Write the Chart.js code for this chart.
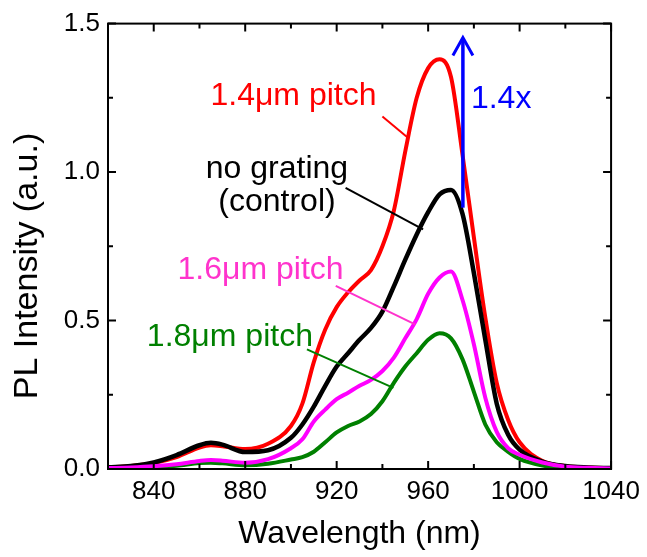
<!DOCTYPE html>
<html>
<head>
<meta charset="utf-8">
<title>PL spectra</title>
<script src="https://cdn.jsdelivr.net/npm/chart.js@4.4.1/dist/chart.umd.min.js"></script>
<style>
    html, body { margin: 0; padding: 0; background: #fff; }
    #plChart { display: block; }
</style>
</head>
<body>
<canvas id="plChart" width="647" height="557"></canvas>
<script>
// PL spectra, gratings of different pitch vs. no grating

const wavelengths = [820, 830, 840, 850, 860, 865, 870, 880, 890, 900, 905, 910, 915, 920, 925, 930, 935, 940, 945, 950, 955, 960, 965, 970, 975, 980, 985, 990, 995, 1000, 1010, 1020, 1030, 1040];

const pitch14 = [0.006, 0.010, 0.020, 0.040, 0.072, 0.080, 0.077, 0.067, 0.085, 0.145, 0.220, 0.360, 0.470, 0.545, 0.595, 0.635, 0.670, 0.750, 0.870, 1.070, 1.250, 1.350, 1.380, 1.320, 1.060, 0.780, 0.510, 0.290, 0.165, 0.090, 0.027, 0.010, 0.005, 0.003];
const noGrating = [0.006, 0.010, 0.022, 0.047, 0.080, 0.088, 0.082, 0.057, 0.063, 0.105, 0.150, 0.210, 0.280, 0.345, 0.390, 0.435, 0.475, 0.530, 0.615, 0.705, 0.790, 0.865, 0.925, 0.940, 0.860, 0.660, 0.435, 0.220, 0.115, 0.065, 0.025, 0.010, 0.005, 0.003];
const pitch16 = [0.003, 0.005, 0.009, 0.016, 0.027, 0.030, 0.028, 0.021, 0.033, 0.070, 0.100, 0.160, 0.200, 0.235, 0.257, 0.280, 0.300, 0.330, 0.375, 0.440, 0.505, 0.590, 0.645, 0.665, 0.570, 0.420, 0.240, 0.125, 0.070, 0.048, 0.022, 0.008, 0.004, 0.002];
const pitch18 = [0.002, 0.004, 0.006, 0.011, 0.020, 0.021, 0.019, 0.013, 0.018, 0.032, 0.040, 0.058, 0.090, 0.123, 0.145, 0.160, 0.185, 0.228, 0.290, 0.345, 0.390, 0.435, 0.457, 0.440, 0.370, 0.260, 0.150, 0.090, 0.058, 0.034, 0.012, 0.005, 0.003, 0.002];

const xTicks = { min: 820, max: 1040, step: 20, labelEvery: 40 };
const yTicks = { min: 0, max: 1.5, step: 0.25, labelEvery: 0.5 };

const FONT = 'Arial, "Liberation Sans", sans-serif';

function toPoints(values) {
    return wavelengths.map((x, i) => ({ x: x, y: values[i] }));
}

function isMajor(value, every) {
    const r = value / every;
    return Math.abs(r - Math.round(r)) < 1e-6;
}

// text labels, leader lines and the 1.4x arrow, all in data units
const labels = [
    { text: '1.4\u03bcm pitch', x: 864.8, y: 1.227, color: '#ff0000', align: 'left' },
    { text: 'no grating', x: 893.9, y: 0.980, color: '#000000', align: 'center' },
    { text: '(control)', x: 893.9, y: 0.870, color: '#000000', align: 'center' },
    { text: '1.6\u03bcm pitch', x: 850.4, y: 0.640, color: '#ff33cc', align: 'left' },
    { text: '1.8\u03bcm pitch', x: 837.0, y: 0.413, color: '#008000', align: 'left' },
    { text: '1.4x', x: 978.7, y: 1.217, color: '#0000ff', align: 'left' }
];

const leaders = [
    { from: [940.0, 1.187], to: [950.9, 1.117], color: '#ff0000' },
    { from: [923.9, 0.947], to: [957.8, 0.807], color: '#000000' },
    { from: [919.6, 0.617], to: [954.3, 0.487], color: '#ff33cc' },
    { from: [907.0, 0.403], to: [944.8, 0.273], color: '#008000' }
];

const arrow = { x: 975.2, from: 0.88, to: 1.453, color: '#0000ff' };

const annotationPlugin = {
    id: 'annotations',
    afterDatasetsDraw(chart) {
        const ctx = chart.ctx;
        const xs = chart.scales.x;
        const ys = chart.scales.y;
        ctx.save();

        leaders.forEach(l => {
            ctx.strokeStyle = l.color;
            ctx.lineWidth = 2;
            ctx.beginPath();
            ctx.moveTo(xs.getPixelForValue(l.from[0]), ys.getPixelForValue(l.from[1]));
            ctx.lineTo(xs.getPixelForValue(l.to[0]), ys.getPixelForValue(l.to[1]));
            ctx.stroke();
        });

        // arrow
        const ax = xs.getPixelForValue(arrow.x);
        const ay0 = ys.getPixelForValue(arrow.from);
        const ay1 = ys.getPixelForValue(arrow.to);
        ctx.strokeStyle = arrow.color;
        ctx.lineWidth = 3.5;
        ctx.beginPath();
        ctx.moveTo(ax, ay0);
        ctx.lineTo(ax, ay1 + 1);
        ctx.stroke();
        ctx.lineWidth = 3;
        ctx.beginPath();
        ctx.moveTo(ax - 10, ay1 + 18);
        ctx.lineTo(ax, ay1);
        ctx.lineTo(ax + 10, ay1 + 18);
        ctx.stroke();

        ctx.font = '32px ' + FONT;
        ctx.textBaseline = 'alphabetic';
        labels.forEach(t => {
            ctx.fillStyle = t.color;
            ctx.textAlign = t.align;
            ctx.fillText(t.text, xs.getPixelForValue(t.x), ys.getPixelForValue(t.y));
        });
        ctx.restore();
    }
};

// box frame with inward ticks on all four sides, plus axis titles
const framePlugin = {
    id: 'frame',
    afterDraw(chart) {
        const ctx = chart.ctx;
        const area = chart.chartArea;
        const xs = chart.scales.x;
        const ys = chart.scales.y;
        ctx.save();
        ctx.strokeStyle = '#000';
        ctx.lineWidth = 2;
        ctx.strokeRect(area.left, area.top, area.right - area.left, area.bottom - area.top);

        ctx.beginPath();
        xs.ticks.forEach(t => {
            const px = xs.getPixelForValue(t.value);
            const len = isMajor(t.value, xTicks.labelEvery) ? 8 : 5;
            ctx.moveTo(px, area.bottom);
            ctx.lineTo(px, area.bottom - len);
            ctx.moveTo(px, area.top);
            ctx.lineTo(px, area.top + len);
        });
        ys.ticks.forEach(t => {
            const py = ys.getPixelForValue(t.value);
            const len = isMajor(t.value, yTicks.labelEvery) ? 8 : 5;
            ctx.moveTo(area.left, py);
            ctx.lineTo(area.left + len, py);
            ctx.moveTo(area.right, py);
            ctx.lineTo(area.right - len, py);
        });
        ctx.stroke();

        ctx.fillStyle = '#000';
        ctx.textAlign = 'center';
        ctx.textBaseline = 'alphabetic';
        ctx.font = '32px ' + FONT;
        ctx.fillText('Wavelength (nm)', (area.left + area.right) / 2, 543);

        ctx.font = '34px ' + FONT;
        ctx.translate(37, 266);
        ctx.rotate(-Math.PI / 2);
        ctx.fillText('PL Intensity (a.u.)', 0, 0);
        ctx.restore();
    }
};

function series(label, values, color, width, order) {
    return {
        label: label,
        data: toPoints(values),
        borderColor: color,
        backgroundColor: color,
        borderWidth: width,
        pointRadius: 0,
        fill: false,
        cubicInterpolationMode: 'monotone',
        order: order
    };
}

new Chart(document.getElementById('plChart'), {
    type: 'line',
    data: {
        datasets: [
            series('no grating (control)', noGrating, '#000000', 4.5, 2),
            series('1.6\u03bcm pitch', pitch16, '#ff00ff', 4, 1),
            series('1.8\u03bcm pitch', pitch18, '#008000', 4, 3),
            series('1.4\u03bcm pitch', pitch14, '#ff0000', 4, 4)
        ]
    },
    options: {
        responsive: false,
        animation: false,
        devicePixelRatio: 1,
        layout: { padding: { left: 0, right: 33, top: 19, bottom: 0 } },
        plugins: {
            legend: { display: false },
            tooltip: { enabled: false }
        },
        scales: {
            x: {
                type: 'linear',
                min: xTicks.min,
                max: xTicks.max,
                afterFit(scale) { scale.height = 88; },
                grid: { display: false, drawTicks: false },
                border: { display: false },
                ticks: {
                    stepSize: xTicks.step,
                    autoSkip: false,
                    maxRotation: 0,
                    padding: 7,
                    color: '#000',
                    font: { family: FONT, size: 26 },
                    callback: v => isMajor(v, xTicks.labelEvery) ? String(v) : ''
                }
            },
            y: {
                min: yTicks.min,
                max: yTicks.max,
                afterFit(scale) { scale.width = 108; },
                grid: { display: false, drawTicks: false },
                border: { display: false },
                ticks: {
                    stepSize: yTicks.step,
                    autoSkip: false,
                    padding: 8,
                    color: '#000',
                    font: { family: FONT, size: 26 },
                    callback: v => isMajor(v, yTicks.labelEvery) ? v.toFixed(1) : ''
                }
            }
        }
    },
    plugins: [annotationPlugin, framePlugin]
});
</script>
</body>
</html>
